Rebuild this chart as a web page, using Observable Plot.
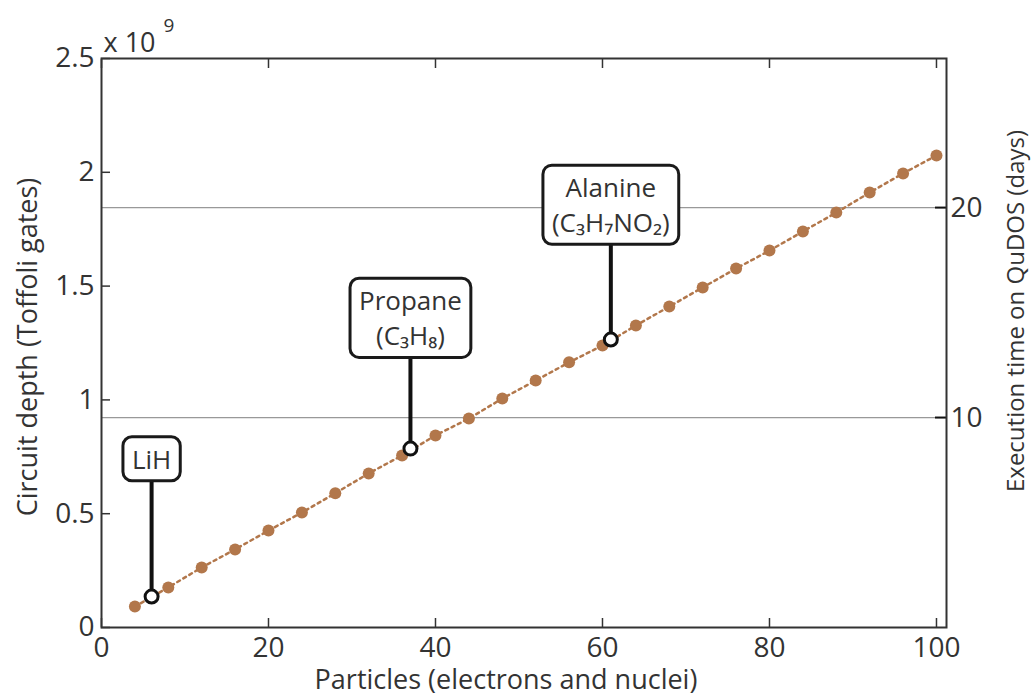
<!DOCTYPE html>
<html><head><meta charset="utf-8">
<script src="https://cdn.jsdelivr.net/npm/d3@7"></script>
<script src="https://cdn.jsdelivr.net/npm/@observablehq/plot@0.6"></script>
<style>body{margin:0;background:#fff} svg{display:block}</style>
</head><body><div id="chart"></div>
<script>
// Data (circuit depth in units of 1e9 Toffoli gates)
const particles = [4, 8, 12, 16, 20, 24, 28, 32, 36, 40, 44, 48, 52, 56, 60, 64, 68, 72, 76, 80, 84, 88, 92, 96, 100];
const depth = [0.092, 0.176, 0.264, 0.343, 0.426, 0.505, 0.590, 0.677, 0.756, 0.844, 0.918, 1.006, 1.085, 1.165, 1.239, 1.327, 1.410, 1.494, 1.577, 1.656, 1.740, 1.823, 1.911, 1.995, 2.074];
const xTicks = [0, 20, 40, 60, 80, 100];
const yTicks = [0, 0.5, 1, 1.5, 2, 2.5];
const dayTicks = [10, 20];
const daysPerBillionGates = 10.84;
const molecules = ["LiH", "Propane\n(C₃H₈)", "Alanine\n(C₃H₇NO₂)"];
const moleculeParticles = [6, 37, 61];
const moleculeDepth = [0.136, 0.786, 1.265];
const labelDepth = [0.747, 1.366, 1.863];

const series = particles.map((p, i) => ({p, d: depth[i]}));
const mols = molecules.map((m, i) => ({m, p: moleculeParticles[i], d: moleculeDepth[i], l: labelDepth[i]}));
const dayDepth = dayTicks.map(t => t / daysPerBillionGates);

const ink = "#333";
const brown = "#b2774b";

const plot = Plot.plot({
  width: 1035, height: 695,
  marginLeft: 101, marginRight: 89, marginTop: 58, marginBottom: 68,
  style: {fontFamily: "'Open Sans', sans-serif", fontSize: "28px", color: ink, background: "#fff"},
  x: {domain: [0, 101.2]},
  y: {domain: [0, 2.5]},
  marks: [
    Plot.ruleY(dayDepth, {stroke: "#999", strokeWidth: 1.3}),
    Plot.axisX({ticks: xTicks, tickSize: 0, tickPadding: 10, label: null}),
    Plot.axisX({ticks: xTicks, tickSize: -9, text: null, stroke: ink, strokeWidth: 1.5, label: null}),
    Plot.axisX({anchor: "top", ticks: xTicks, tickSize: -9, text: null, stroke: ink, strokeWidth: 1.5, label: null}),
    Plot.axisY({ticks: yTicks, tickSize: 0, tickPadding: 7, label: null, tickFormat: d => String(d)}),
    Plot.axisY({ticks: yTicks, tickSize: -9, text: null, stroke: ink, strokeWidth: 1.5, label: null}),
    Plot.axisY({anchor: "right", ticks: dayDepth, tickSize: 0, tickPadding: 4, label: null, tickFormat: (d, i) => String(dayTicks[i])}),
    Plot.axisY({anchor: "right", ticks: dayDepth, tickSize: -12, text: null, stroke: "#111", strokeWidth: 2, label: null}),
    Plot.frame({stroke: ink, strokeWidth: 2}),
    Plot.line(series, {x: "p", y: "d", stroke: brown, strokeWidth: 2.5, strokeDasharray: "3,4"}),
    Plot.dot(series, {x: "p", y: "d", r: 6, fill: brown, stroke: null}),
    Plot.ruleX(mols, {x: "p", y1: "d", y2: "l", stroke: "#111", strokeWidth: 4}),
    Plot.text(mols, {x: "p", y: "l", text: "m", fill: ink, fontSize: 26, lineHeight: 1.35, textAnchor: "middle", lineAnchor: "middle"}),
    Plot.dot(mols, {x: "p", y: "d", r: 6.5, fill: "white", stroke: "#111", strokeWidth: 3}),
    Plot.text(["Particles (electrons and nuclei)"], {frameAnchor: "bottom", dx: -18, dy: 53, fill: ink, fontSize: 27, textAnchor: "middle", lineAnchor: "middle"}),
    Plot.text(["Circuit depth (Toffoli gates)"], {frameAnchor: "left", rotate: -90, dx: -73, dy: 4, fill: ink, fontSize: 27, textAnchor: "middle", lineAnchor: "middle"}),
    Plot.text(["Execution time on QuDOS (days)"], {frameAnchor: "right", rotate: -90, dx: 70, dy: -32, fill: ink, fontSize: 24, textAnchor: "middle", lineAnchor: "middle"}),
    Plot.text(["x 10"], {frameAnchor: "top-left", dx: 2, dy: -7, fill: ink, fontSize: 27, textAnchor: "start", lineAnchor: "bottom"}),
    Plot.text(["9"], {frameAnchor: "top-left", dx: 62, dy: -27, fill: ink, fontSize: 19, textAnchor: "start", lineAnchor: "bottom"})
  ]
});
document.getElementById("chart").appendChild(plot);

// rounded boxes behind the molecule labels
const moleculeKeys = new Set(molecules.map(m => m.replace(/\n/g, "")));
d3.select(plot).selectAll("text").each(function() {
  if (!moleculeKeys.has(this.textContent)) return;
  const b = this.getBBox();
  const padX = 9, padY = 4;
  d3.select(this.parentNode).insert("rect", () => this)
    .attr("x", b.x - padX).attr("y", b.y - padY)
    .attr("width", b.width + 2 * padX).attr("height", b.height + 2 * padY)
    .attr("rx", 9).attr("ry", 9)
    .attr("fill", "white").attr("stroke", "#1a1a1a").attr("stroke-width", 3)
    .attr("transform", this.getAttribute("transform"));
});
</script>
</body></html>
